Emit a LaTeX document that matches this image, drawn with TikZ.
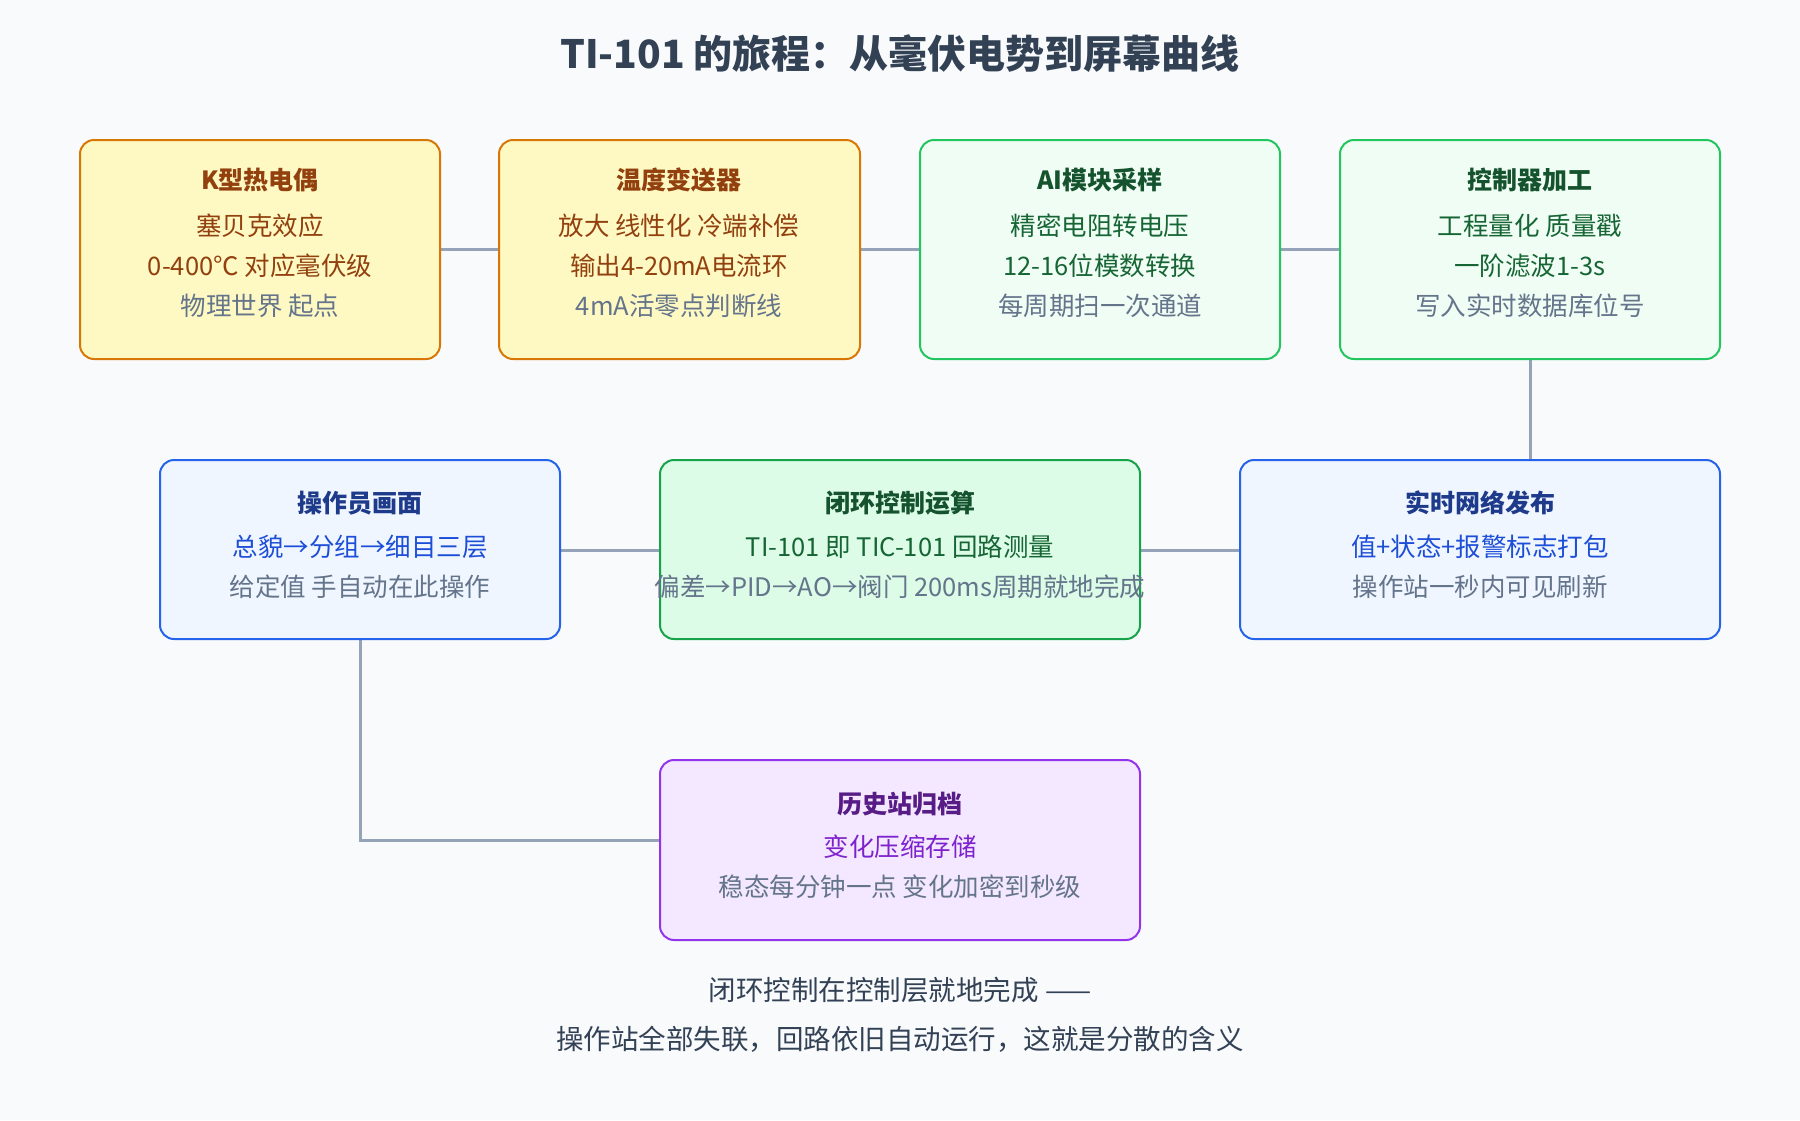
\documentclass[tikz,border=0pt]{standalone}
\usepackage{fontspec}
\setmainfont{Noto Sans CJK SC}
\begin{document}
\begin{tikzpicture}[x=1pt,y=-1pt,
 box/.style={draw,line width=2pt,rounded corners=14pt},
 ln/.style={draw=lineC,line width=3pt},
 t/.style={font=\fontsize{25}{30}\selectfont\bfseries},
 b/.style={font=\fontsize{25.5}{30}\selectfont},
 g/.style={font=\fontsize{25.5}{30}\selectfont,text=grayT}]
\definecolor{bg}{HTML}{F8FAFC}\definecolor{lineC}{HTML}{94A3B8}\definecolor{grayT}{HTML}{64748B}
\definecolor{oF}{HTML}{FEF9C3}\definecolor{oD}{HTML}{D97706}\definecolor{oT}{HTML}{92400E}
\definecolor{gF}{HTML}{F0FDF4}\definecolor{gD}{HTML}{22C55E}\definecolor{gT}{HTML}{14532D}\definecolor{gB}{HTML}{166534}
\definecolor{g2F}{HTML}{DCFCE7}\definecolor{g2D}{HTML}{16A34A}
\definecolor{bF}{HTML}{EFF6FF}\definecolor{bD}{HTML}{2563EB}\definecolor{bT}{HTML}{1E3A8A}\definecolor{bB}{HTML}{1D4ED8}
\definecolor{pF}{HTML}{F3E8FF}\definecolor{pD}{HTML}{9333EA}\definecolor{pT}{HTML}{581C87}\definecolor{pB}{HTML}{7E22CE}
\definecolor{titleC}{HTML}{334155}
\fill[bg] (0,0) rectangle (1800,1120);
\useasboundingbox (0,0) rectangle (1800,1120);
\coordinate (a1) at (440,249);\coordinate (a2) at (499,249);
\coordinate (b1) at (860,249);\coordinate (b2) at (920,249);
\coordinate (c1) at (1280,249);\coordinate (c2) at (1340,249);
\coordinate (d1) at (1530,359);\coordinate (d2) at (1530,460);
\coordinate (e1) at (1240,550);\coordinate (e2) at (1140,550);
\coordinate (f1) at (660,550);\coordinate (f2) at (560,550);
\coordinate (h1) at (360,639);\coordinate (h2) at (660,840);
\draw[ln] (a1)--(a2); \draw[ln] (b1)--(b2); \draw[ln] (c1)--(c2);
\draw[ln] (d1)--(d2); \draw[ln] (e1)--(e2); \draw[ln] (f1)--(f2);
\draw[ln] (h1)|-(h2);
\path[box,fill=oF,draw=oD] (80,140) rectangle (440,359);
\path[box,fill=oF,draw=oD] (499,140) rectangle (860,359);
\path[box,fill=gF,draw=gD] (920,140) rectangle (1280,359);
\path[box,fill=gF,draw=gD] (1340,140) rectangle (1720,359);
\path[box,fill=bF,draw=bD] (160,460) rectangle (560,639);
\path[box,fill=g2F,draw=g2D] (660,460) rectangle (1140,639);
\path[box,fill=bF,draw=bD] (1240,460) rectangle (1720,639);
\path[box,fill=pF,draw=pD] (660,760) rectangle (1140,940);
% texts
\node[t,text=oT] (t1) at (260,180) {K型热电偶};
\node[b,text=oT] at (260,226) {塞贝克效应};
\node[b,text=oT] at (260,266) {0-400℃ 对应毫伏级};
\node[g] at (260,306) {物理世界 起点};
\node[t,text=oT] (t2) at (679,180) {温度变送器};
\node[b,text=oT] at (679,226) {放大 线性化 冷端补偿};
\node[b,text=oT] at (679,266) {输出4-20mA电流环};
\node[g] at (679,306) {4mA活零点判断线};
\node[t,text=gT] (t3) at (1100,180) {AI模块采样};
\node[b,text=gB] at (1100,226) {精密电阻转电压};
\node[b,text=gB] at (1100,266) {12-16位模数转换};
\node[g] at (1100,306) {每周期扫一次通道};
\node[t,text=gT] (t4) at (1530,180) {控制器加工};
\node[b,text=gB] at (1530,226) {工程量化 质量戳};
\node[b,text=gB] at (1530,266) {一阶滤波1-3s};
\node[g] at (1530,306) {写入实时数据库位号};
\node[t,text=bT] (t5) at (360,503) {操作员画面};
\node[b,text=bB] at (360,547) {总貌→分组→细目三层};
\node[g] at (360,587) {给定值 手自动在此操作};
\node[t,text=gT] (t6) at (900,503) {闭环控制运算};
\node[b,text=gB] at (900,547) {TI-101 即 TIC-101 回路测量};
\node[g] at (900,587) {偏差→PID→AO→阀门 200ms周期就地完成};
\node[t,text=bT] (t7) at (1480,503) {实时网络发布};
\node[b,text=bB] at (1480,547) {值+状态+报警标志打包};
\node[g] at (1480,587) {操作站一秒内可见刷新};
\node[t,text=pT] (t8) at (900,804) {历史站归档};
\node[b,text=pB] at (900,847) {变化压缩存储};
\node[g] at (900,887) {稳态每分钟一点 变化加密到秒级};
\node[font=\fontsize{39}{44}\selectfont\bfseries,text=titleC] (title) at (900,54) {TI-101 的旅程：从毫伏电势到屏幕曲线};
\node[font=\fontsize{27.5}{32}\selectfont,text=titleC] (f1t) at (900,990) {闭环控制在控制层就地完成 ——};
\node[font=\fontsize{27.5}{32}\selectfont,text=titleC] (f2t) at (900,1039) {操作站全部失联，回路依旧自动运行，这就是分散的含义};
\end{tikzpicture}
\end{document}
